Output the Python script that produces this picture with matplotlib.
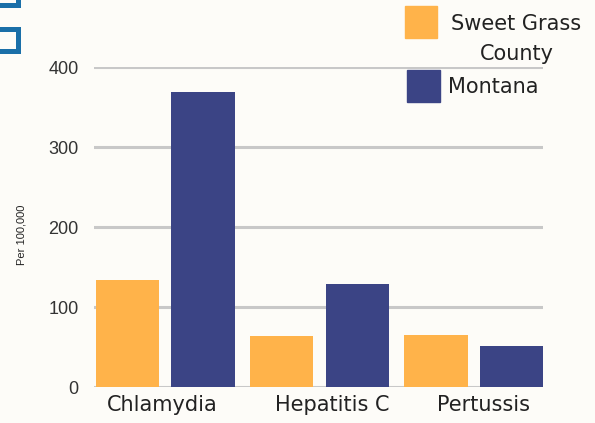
import numpy as np
import matplotlib.pyplot as plt
from matplotlib.patches import Rectangle

# data (rate per 100,000)
diseases = ["Chlamydia", "Hepatitis C", "Pertussis"]
sweet_grass = [134, 64, 65]
montana = [369, 129, 51]
yticks = [0, 100, 200, 300, 400]

orange = "#FFB34A"
navy = "#3B4485"
bg = "#FDFCF8"
txt = "#222222"

fig = plt.figure(figsize=(5.95, 4.23), dpi=100, facecolor=bg)
ax = fig.add_axes([0.158, 0.0851, 0.7546, 0.7565], facecolor=bg)

x = np.arange(len(diseases))
w = 0.41
ax.bar(x - 0.245, sweet_grass, w, color=orange, zorder=3, clip_on=False)
ax.bar(x + 0.245, montana, w, color=navy, zorder=3, clip_on=False)

ax.set_xlim(-0.46, 2.448)
ax.set_ylim(0, 400)
ax.set_yticks(yticks)
ax.yaxis.grid(True, color="#C8C8C8", linewidth=2.2, zorder=0)
ax.set_axisbelow(True)
for s in ax.spines.values():
    s.set_visible(False)
ax.tick_params(axis="y", length=0, pad=11, labelsize=13, labelcolor="#333333")
ax.tick_params(axis="x", length=0, pad=6)
for t in ax.get_yticklabels():
    t.set_fontfamily("Liberation Sans")

# the category labels are not quite centred under their groups in the original
ax.set_xticks(x + np.array([-0.02, 0.08, 0.06]))
ax.set_xticklabels(diseases, fontsize=15, fontfamily="DejaVu Sans", color=txt)

ax.set_ylabel("Per 100,000", fontsize=8, fontfamily="Liberation Sans", color=txt)
ax.yaxis.set_label_coords(-0.15, 0.475)

# legend, drawn by hand like the original
W, H = 595, 423
def fig_rect(x0, y0, w_, h_, **kw):
    fig.add_artist(Rectangle((x0 / W, 1 - (y0 + h_) / H), w_ / W, h_ / H,
                             transform=fig.transFigure, **kw))

fig_rect(405, 6, 32, 32, color=orange)
fig_rect(407, 70, 33, 32, color=navy)
fig.text(516.5 / W, 1 - 30 / H, "Sweet Grass", ha="center", va="baseline",
         fontsize=15, fontfamily="DejaVu Sans", color=txt)
fig.text(517 / W, 1 - 60 / H, "County", ha="center", va="baseline",
         fontsize=15, fontfamily="DejaVu Sans", color=txt)
fig.text(448 / W, 1 - 93 / H, "Montana", ha="left", va="baseline",
         fontsize=15, fontfamily="DejaVu Sans", color=txt)

# corner decoration (blue outlined squares, partly off the page)
fig_rect(-12, -22, 29.5, 27.5, fill=False, edgecolor="#1A6FA8", linewidth=3.6)
fig_rect(-12, 29.5, 29.5, 22, fill=False, edgecolor="#1A6FA8", linewidth=3.6)

fig.savefig("out.png", dpi=100, facecolor=bg)
